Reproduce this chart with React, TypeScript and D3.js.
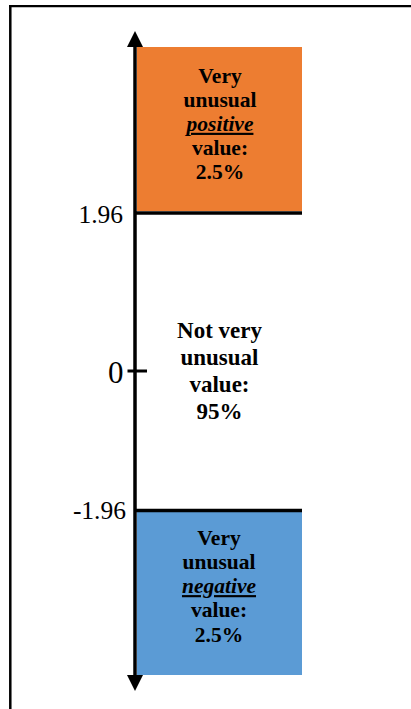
import React from "react";
import * as d3 from "d3";

// z-values on the schematic axis (not to scale)
const axisValues = [-3, -1.96, 0, 1.96, 3];
const tickValues = [1.96, 0, -1.96];
const tickLabels = ["1.96", "0", "-1.96"];

const positiveLines = ["Very", "unusual", "positive", "value:", "2.5%"];
const middleLines = ["Not very", "unusual", "value:", "95%"];
const negativeLines = ["Very", "unusual", "negative", "value:", "2.5%"];
const emphasisIndex = 2;

const W = 411;
const H = 709;
const FONT = "'Liberation Serif', 'Times New Roman', Times, serif";

export default function App() {
  const y = d3
    .scalePow()
    .exponent(1)
    .domain(axisValues)
    .range([675, 510.5, 371, 213, 47]);
  // piecewise linear scale
  const ys = d3.scaleLinear().domain(axisValues).range([675, 510.5, 371, 213, 47]);

  const axisX = 135;
  const boxRight = 302;
  const boxCx = 220;

  const yTop = ys(3);
  const yPos = ys(1.96);
  const yZero = ys(0);
  const yNeg = ys(-1.96);
  const yBot = ys(-3);

  const labelSize: Record<string, number> = { "1.96": 25.5, "0": 31, "-1.96": 25.5 };

  return (
    <svg
      width={W}
      height={H}
      style={{ position: "absolute", left: 0, top: 0, background: "#fff" }}
      fontFamily={FONT}
    >
      {/* frame */}
      <line x1={10.3} y1={709} x2={10.3} y2={5} stroke="#000" strokeWidth={2.5} />
      <line x1={9} y1={6.2} x2={411} y2={6.2} stroke="#000" strokeWidth={2.2} />

      {/* boxes */}
      <rect x={axisX + 2} y={yTop} width={boxRight - axisX - 2} height={yPos - 2 - yTop} fill="#ED7D31" />
      <rect x={axisX + 2} y={yNeg + 1.5} width={boxRight - axisX - 2} height={yBot - yNeg - 1.5} fill="#5B9BD5" />

      {/* threshold lines */}
      <line x1={axisX} x2={boxRight} y1={yPos} y2={yPos} stroke="#000" strokeWidth={3.5} />
      <line x1={axisX} x2={boxRight} y1={yNeg} y2={yNeg} stroke="#000" strokeWidth={3.5} />

      {/* axis */}
      <line x1={axisX} x2={axisX} y1={yTop} y2={yBot} stroke="#000" strokeWidth={3.5} />
      <path d={`M${axisX},31 L${axisX - 8},${yTop} L${axisX + 8},${yTop} Z`} fill="#000" />
      <path d={`M${axisX},691 L${axisX - 8},${yBot} L${axisX + 8},${yBot} Z`} fill="#000" />

      {/* zero tick */}
      <line x1={127.5} x2={147} y1={yZero} y2={yZero} stroke="#000" strokeWidth={3} />

      {/* tick labels */}
      {tickValues.map((v, i) => (
        <text
          key={i}
          x={v === 0 ? 123.5 : v > 0 ? 123 : 126}
          y={ys(v) + (v === 0 ? 11.5 : v > 0 ? 9.5 : 8.5)}
          textAnchor="end"
          fontSize={labelSize[tickLabels[i]]}
          fill="#000"
        >
          {tickLabels[i]}
        </text>
      ))}

      {/* region labels */}
      {positiveLines.map((t, i) => (
        <text
          key={"p" + i}
          x={boxCx}
          y={yTop + 36 + i * 23.9}
          textAnchor="middle"
          fontSize={21.5}
          fontWeight="bold"
          fontStyle={i === emphasisIndex ? "italic" : "normal"}
          textDecoration={i === emphasisIndex ? "underline" : "none"}
          fill="#000"
        >
          {t}
        </text>
      ))}
      {middleLines.map((t, i) => (
        <text
          key={"m" + i}
          x={boxCx - 0.5}
          y={yZero - 33 + i * 27}
          textAnchor="middle"
          fontSize={23}
          fontWeight="bold"
          fill="#000"
        >
          {t}
        </text>
      ))}
      {negativeLines.map((t, i) => (
        <text
          key={"n" + i}
          x={boxCx - 1}
          y={yNeg + 34 + i * 24.3}
          textAnchor="middle"
          fontSize={21.5}
          fontWeight="bold"
          fontStyle={i === emphasisIndex ? "italic" : "normal"}
          textDecoration={i === emphasisIndex ? "underline" : "none"}
          fill="#000"
        >
          {t}
        </text>
      ))}
    </svg>
  );
}
